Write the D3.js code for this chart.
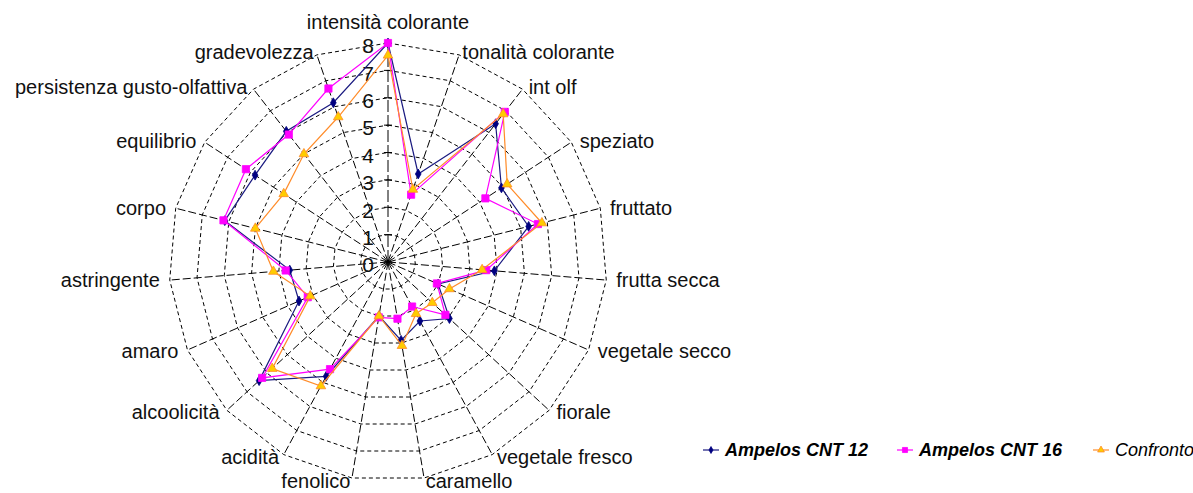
<!DOCTYPE html>
<html>
<head>
<meta charset="utf-8">
<script src="https://cdn.jsdelivr.net/npm/d3@7"></script>
<style>
  html, body { margin: 0; padding: 0; background: #fff; }
  svg { display: block; font-family: "Liberation Sans", Arial, sans-serif; }
</style>
</head>
<body>
<svg id="chart" width="1193" height="493"></svg>
<script>
const categories = ["intensità colorante","tonalità colorante","int olf","speziato","fruttato","frutta secca","vegetale secco","fiorale","vegetale fresco","caramello","fenolico","acidità","alcoolicità","amaro","astringente","corpo","equilibrio","persistenza gusto-olfattiva","gradevolezza"];
const cnt12 = [8, 3.4, 6.4, 4.95, 5.3, 3.9, 2.0, 3.05, 2.45, 2.9, 2.0, 4.75, 6.4, 3.55, 3.6, 6.15, 5.8, 6.05, 6.15];
const cnt16 = [8, 2.6, 6.95, 4.25, 5.65, 3.6, 1.95, 2.85, 1.85, 2.1, 2.05, 4.45, 6.25, 3.2, 3.75, 6.2, 6.2, 5.9, 6.7];
const confronto = [7.55, 2.8, 6.85, 5.2, 5.8, 3.45, 2.45, 2.2, 2.15, 3.1, 2.0, 5.15, 5.75, 3.1, 4.2, 5.0, 4.55, 5.0, 5.6];
const ticks = [0,1,2,3,4,5,6,7,8];
const seriesNames = ["Ampelos CNT 12", "Ampelos CNT 16", "Confronto"];

const svg = d3.select("#chart");
const cx = 388, cy = 262, R = 219;
const n = categories.length;
const rScale = d3.scaleLinear().domain([0, 8]).range([0, R]);
const aScale = d3.scaleLinear().domain([0, n]).range([0, 2 * Math.PI]);
const pt = (i, v) => [cx + rScale(v) * Math.sin(aScale(i)), cy - rScale(v) * Math.cos(aScale(i))];

const grid = svg.append("g");
// rings
ticks.filter(t => t > 0).forEach(t => {
  grid.append("polygon")
    .attr("points", d3.range(n).map(i => pt(i, t).join(",")).join(" "))
    .attr("fill", "none").attr("stroke", "#000").attr("stroke-width", 1)
    .attr("stroke-dasharray", "4,3");
});
// spokes
d3.range(n).forEach(i => {
  const [x, y] = pt(i, 8);
  grid.append("line").attr("x1", cx).attr("y1", cy).attr("x2", x).attr("y2", y)
    .attr("stroke", "#000").attr("stroke-width", 1)
    .attr("stroke-dasharray", i === 0 ? "12,3" : "8,3");
});
// value axis ticks
ticks.forEach(t => {
  grid.append("line").attr("x1", cx - 4).attr("x2", cx + 4)
    .attr("y1", cy - rScale(t)).attr("y2", cy - rScale(t))
    .attr("stroke", "#000").attr("stroke-width", 1);
});
// value labels
grid.selectAll("text.tick").data(ticks).join("text").attr("class", "tick")
  .attr("x", cx - 14).attr("y", t => cy - rScale(t) + 3).attr("dy", "0.35em")
  .attr("text-anchor", "end").attr("font-size", 21).attr("fill", "#111")
  .text(t => t);

// category labels
svg.selectAll("text.cat").data(categories).join("text").attr("class", "cat")
  .each(function (d, i) {
    const a = aScale(i), s = Math.sin(a), c = Math.cos(a);
    const el = d3.select(this);
    if (Math.abs(s) < 0.05) {
      el.attr("x", cx).attr("y", cy - (R + 14)).attr("text-anchor", "middle");
    } else {
      el.attr("x", cx + (R + 10) * s).attr("y", cy - (R + 3) * c).attr("dy", "0.35em")
        .attr("text-anchor", s > 0 ? "start" : "end");
    }
  })
  .attr("font-size", 20).attr("fill", "#111").text(d => d);

// series
const series = [
  { name: seriesNames[0], values: cnt12, line: "#1a1a80", fill: "#000080", stroke: "#000080", sym: d3.symbolDiamond, size: 28 },
  { name: seriesNames[1], values: cnt16, line: "#ff00ff", fill: "#ff00ff", stroke: "#ff00ff", sym: d3.symbolSquare, size: 52 },
  { name: seriesNames[2], values: confronto, line: "#ff8c2a", fill: "#ffcc00", stroke: "#ff8c2a", sym: d3.symbolTriangle, size: 40 }
];
const lineGen = d3.lineRadial().angle((d, i) => aScale(i)).radius(d => rScale(d)).curve(d3.curveLinearClosed);
series.forEach(s => {
  const g = svg.append("g");
  g.append("path").attr("d", lineGen(s.values)).attr("transform", `translate(${cx},${cy})`)
    .attr("fill", "none").attr("stroke", s.line).attr("stroke-width", 1.2);
  g.selectAll("path.m").data(s.values).join("path").attr("class", "m")
    .attr("d", d3.symbol().type(s.sym).size(s.size))
    .attr("transform", (d, i) => `translate(${pt(i, d).join(",")})`)
    .attr("fill", s.fill).attr("stroke", s.stroke).attr("stroke-width", 0.8);
});

// legend
const legendX = [703, 897, 1093];
const legendY = 450;
series.forEach((s, k) => {
  const g = svg.append("g").attr("transform", `translate(${legendX[k]},${legendY})`);
  g.append("line").attr("x1", 0).attr("x2", 16).attr("y1", 0).attr("y2", 0)
    .attr("stroke", s.line).attr("stroke-width", 1.2);
  g.append("path").attr("d", d3.symbol().type(s.sym).size(s.size * 0.5)).attr("transform", "translate(8,0)")
    .attr("fill", s.fill).attr("stroke", s.stroke).attr("stroke-width", 0.8);
  g.append("text").attr("x", 22).attr("y", 0).attr("dy", "0.35em")
    .attr("font-size", 18).attr("font-style", "italic")
    .attr("font-weight", k < 2 ? "bold" : "normal").attr("fill", "#000").text(s.name);
});
</script>
</body>
</html>
